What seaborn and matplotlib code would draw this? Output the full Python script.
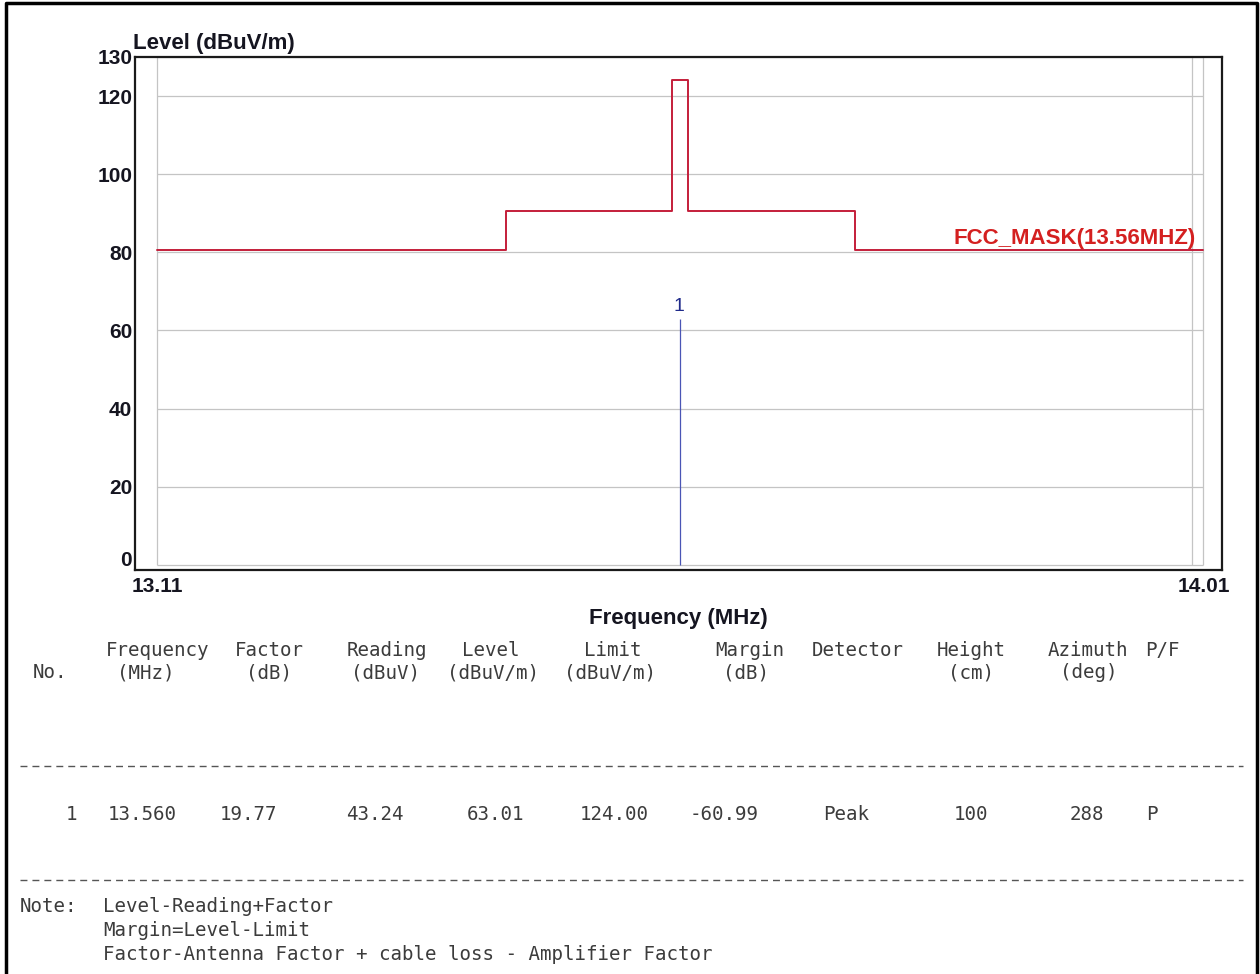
import numpy as np
import pandas as pd
import matplotlib
matplotlib.use('Agg')
import matplotlib.pyplot as plt
import seaborn as sns
from matplotlib.lines import Line2D
from matplotlib.transforms import ScaledTranslation

# FCC 15.225 mask (13.56 MHz band), step edges and levels
mask_freq = [13.110, 13.410, 13.553, 13.567, 13.710, 14.010]
mask_level = [80.5, 90.5, 124.0, 90.5, 80.5, 80.5]
mask_name = 'FCC_MASK(13.56MHZ)'

# measured emission
marker_no = ['1']
marker_freq = [13.560]
marker_level = [63.01]

y_ticks = [0, 20, 40, 60, 80, 100, 120, 130]
x_ticks = [13.11, 14.01]
x_grid = [13.11, 14.00, 14.01]

# result table
head1 = ['Frequency', 'Factor', 'Reading', 'Level', 'Limit', 'Margin', 'Detector', 'Height', 'Azimuth', 'P/F']
head2 = ['No.', '(MHz)', '(dB)', '(dBuV)', '(dBuV/m)', '(dBuV/m)', '(dB)', '(cm)', '(deg)']
row1 = ['1', '13.560', '19.77', '43.24', '63.01', '124.00', '-60.99', 'Peak', '100', '288', 'P']
note_head = 'Note:'
notes = ['Level-Reading+Factor',
         'Margin=Level-Limit',
         'Factor-Antenna Factor + cable loss - Amplifier Factor']

W, H = 1260, 974


def px(x, y):
    return x / W, 1 - y / H


sns.set_style('white')
plt.rcParams['font.family'] = ['Liberation Sans', 'DejaVu Sans']

fig = plt.figure(figsize=(W / 100, H / 100), dpi=100)
x0, y1 = px(135, 57)
x1, y0 = px(1222, 570)
ax = fig.add_axes([x0, y0, x1 - x0, y1 - y0])

ax.set_xlim(13.091, 14.026)
ax.set_ylim(-1.3, 129.4)

# inner grid box
grid_c = '#c4c4c4'
ax.hlines(y_ticks, mask_freq[0], mask_freq[-1], colors=grid_c, lw=0.9, zorder=1)
ax.vlines(x_grid, 0, y_ticks[-1], colors=grid_c, lw=0.9, zorder=1)

df = pd.DataFrame({'freq': mask_freq, 'level': mask_level})
sns.lineplot(data=df, x='freq', y='level', drawstyle='steps-post', color='#c41e3a',
             lw=1.4, ax=ax, legend=False, zorder=3)
ax.text(mask_freq[-1] - 0.007, mask_level[-1] + 0.4, mask_name, color='#d42020',
        fontsize=16, fontweight='bold', ha='right', va='bottom')

ax.vlines(marker_freq, 0, marker_level, colors='#4a55b5', lw=0.9, zorder=4)
for n, f, l in zip(marker_no, marker_freq, marker_level):
    ax.annotate(n, (f, l), xytext=(-1, 3), textcoords='offset points', ha='center',
                va='bottom', fontsize=14, color='#1f2a8a')

ax.set_yticks(y_ticks)
ax.set_yticklabels([str(v) for v in y_ticks])
ax.set_xticks(x_ticks)
ax.set_xticklabels(['%.2f' % v for v in x_ticks])
ax.tick_params(axis='both', length=0, labelsize=15, labelcolor='#151520')
ax.tick_params(axis='y', pad=2)
ax.tick_params(axis='x', pad=5)
for lab in ax.get_xticklabels() + ax.get_yticklabels():
    lab.set_fontweight('bold')
# the zero label sits a little higher in the original
zl = ax.get_yticklabels()[0]
zl.set_transform(zl.get_transform() + ScaledTranslation(0, 6 / 100, fig.dpi_scale_trans))

ax.set_xlabel('Frequency (MHz)', fontsize=16, fontweight='bold', color='#151520')
ax.xaxis.set_label_coords(0.5, -0.094)
ax.xaxis.label.set_va('center')
ax.set_ylabel('Level (dBuV/m)', fontsize=16, fontweight='bold', color='#151520',
              rotation=0, ha='left', va='center')
ax.yaxis.set_label_coords(-0.002, 1.027)

for s in ax.spines.values():
    s.set_color('#1a1a1a')
    s.set_linewidth(1.6)

# table below the chart
mono = dict(family=['DejaVu Sans Mono'], fontsize=13.8, color='#3c3c3c')
head1_x = [158, 269, 387, 491, 613, 750, 858, 971, 1088, 1162]
head2_x = [50, 146, 269, 385, 493, 610, 746, 971, 1089]
row_x = [72, 142, 248, 375, 496, 614, 724, 846, 971, 1087, 1152]
for cx, t in zip(head1_x, head1):
    fig.text(*px(cx, 650), t, ha='center', va='center', **mono)
for cx, t in zip(head2_x, head2):
    fig.text(*px(cx, 673), t, ha='center', va='center', **mono)
for cx, t in zip(row_x, row1):
    fig.text(*px(cx, 815), t, ha='center', va='center', **mono)

for yy in [766, 880]:
    xa, ya = px(20, yy)
    xb, _ = px(1243, yy)
    fig.add_artist(Line2D([xa, xb], [ya, ya], color='#555555', lw=1.0,
                          dashes=(5, 3.6), transform=fig.transFigure))

fig.text(*px(20, 907), note_head, ha='left', va='center', **mono)
for i, t in enumerate(notes):
    fig.text(*px(103, 907 + 24 * i), t, ha='left', va='center', **mono)

# outer frame, open at the bottom
bx = [px(6, 990)[0], px(6, 3)[0], px(1257, 3)[0], px(1257, 990)[0]]
by = [px(6, 990)[1], px(6, 3)[1], px(1257, 3)[1], px(1257, 990)[1]]
fig.add_artist(Line2D(bx, by, color='black', lw=2.5, transform=fig.transFigure,
                      clip_on=False))

fig.savefig('out.png', dpi=100)
